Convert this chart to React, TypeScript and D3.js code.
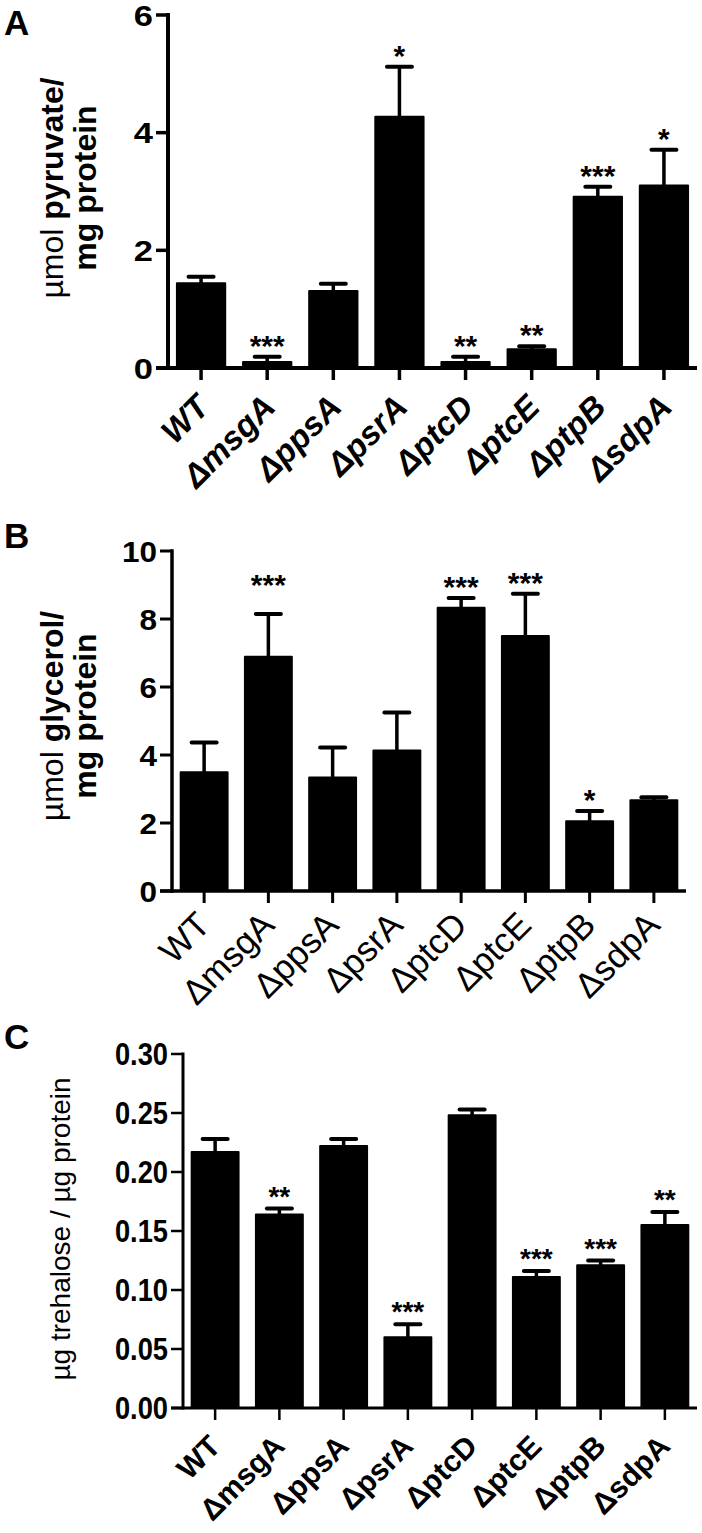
import React from "react";
import * as d3 from "d3";

const strains = ["WT", "ΔmsgA", "ΔppsA", "ΔpsrA", "ΔptcD", "ΔptcE", "ΔptpB", "ΔsdpA"];

const pyruvateMean = [1.44, 0.1, 1.31, 4.27, 0.1, 0.32, 2.91, 3.1];
const pyruvateSem = [0.11, 0.09, 0.12, 0.85, 0.09, 0.05, 0.17, 0.61];
const pyruvateSig = ["", "***", "", "*", "**", "**", "***", "*"];
const pyruvateStarAt: (number | null)[] = [null, null, null, null, null, null, null, null];
const pyruvateTicks = [0, 2, 4, 6];

const glycerolMean = [3.49, 6.89, 3.34, 4.13, 8.33, 7.5, 2.05, 2.67];
const glycerolSem = [0.88, 1.26, 0.88, 1.12, 0.29, 1.24, 0.3, 0.09];
const glycerolSig = ["", "***", "", "", "***", "***", "*", ""];
const glycerolStarAt: (number | null)[] = [null, 8.68, null, null, null, null, null, null];
const glycerolTicks = [0, 2, 4, 6, 8, 10];

const trehaloseMean = [0.217, 0.164, 0.222, 0.06, 0.248, 0.111, 0.121, 0.155];
const trehaloseSem = [0.011, 0.005, 0.006, 0.011, 0.005, 0.005, 0.004, 0.011];
const trehaloseSig = ["", "**", "", "***", "", "***", "***", "**"];
const trehaloseStarAt: (number | null)[] = [null, null, null, null, null, null, null, null];
const trehaloseTicks = [0, 0.05, 0.1, 0.15, 0.2, 0.25, 0.3];

const FONT = "'Liberation Sans', Arial, Helvetica, sans-serif";

type PanelProps = {
  letter: string;
  letterY: number;
  means: number[];
  sems: number[];
  sig: string[];
  starAt: (number | null)[];
  ticks: number[];
  fmt: (v: number) => string;
  x0: number;
  x1: number;
  yTop: number;
  yBottom: number;
  axisW: number;
  tickFont: number;
  tickScaleX: number;
  labelDx: number;
  labelDy: number;
  labelFont: number;
  labelWeight: string;
  labelStyle: string;
  starFont: number;
  starOff: number;
  ylabel: React.ReactNode;
};

function Panel(p: PanelProps) {
  const dmax = p.ticks[p.ticks.length - 1];
  const y = d3.scaleLinear().domain([0, dmax]).range([p.yBottom, p.yTop]);
  const x = d3
    .scaleBand<string>()
    .domain(strains)
    .range([p.x0, p.x1])
    .paddingInner(0.27)
    .paddingOuter(0.135);
  const bw = x.bandwidth();
  const tickLen = 12;
  const capW = 25;
  return (
    <g>
      <text x={4} y={p.letterY} fontFamily={FONT} fontWeight="bold" fontSize={35}>
        {p.letter}
      </text>
      {p.ylabel}
      {strains.map((s, i) => {
        const top = y(p.means[i]);
        const errTop = y(p.means[i] + p.sems[i]);
        const cx = (x(s) as number) + bw / 2;
        return (
          <g key={s}>
            <line x1={cx} x2={cx} y1={top} y2={errTop} stroke="#000" strokeWidth={3.5} />
            <line
              x1={cx - capW / 2}
              x2={cx + capW / 2}
              y1={errTop}
              y2={errTop}
              stroke="#000"
              strokeWidth={4}
              strokeLinecap="round"
            />
            <rect
              x={x(s) as number}
              y={top}
              width={bw}
              height={p.yBottom - top}
              fill="#000"
              stroke="#000"
              strokeWidth={2}
              strokeLinejoin="round"
            />
            {p.sig[i] && (
              <text
                x={cx}
                y={(p.starAt[i] != null ? y(p.starAt[i] as number) : errTop) - p.starOff}
                textAnchor="middle"
                fontFamily={FONT}
                fontWeight="bold"
                fontSize={p.starFont}
              >
                {p.sig[i]}
              </text>
            )}
          </g>
        );
      })}
      <line x1={p.x0} x2={p.x0} y1={p.yTop} y2={p.yBottom} stroke="#000" strokeWidth={p.axisW} strokeLinecap="square" />
      {p.ticks.map((t) => (
        <g key={t}>
          <line x1={p.x0 - tickLen} x2={p.x0} y1={y(t)} y2={y(t)} stroke="#000" strokeWidth={p.axisW - 0.5} />
          <text
            transform={`translate(${p.x0 - tickLen - 3},${y(t)}) scale(${p.tickScaleX},1)`}
            dy="0.36em"
            textAnchor="end"
            fontFamily={FONT}
            fontWeight="bold"
            fontSize={p.tickFont}
          >
            {p.fmt(t)}
          </text>
        </g>
      ))}
      <line x1={p.x0 - tickLen} x2={p.x1} y1={p.yBottom} y2={p.yBottom} stroke="#000" strokeWidth={p.axisW} />
      {strains.map((s) => {
        const cx = (x(s) as number) + bw / 2;
        return (
          <g key={s}>
            <line x1={cx} x2={cx} y1={p.yBottom} y2={p.yBottom + tickLen} stroke="#000" strokeWidth={p.axisW - 0.5} />
            <text
              transform={`translate(${cx + p.labelDx},${p.yBottom + p.labelDy}) rotate(-45)`}
              textAnchor="end"
              fontFamily={FONT}
              fontWeight={p.labelWeight}
              fontStyle={p.labelStyle}
              fontSize={p.labelFont}
            >
              {s}
            </text>
          </g>
        );
      })}
    </g>
  );
}

function TwoLineLabel({ cy, bold1, x1, x2, size }: { cy: number; bold1: string; x1: number; x2: number; size: number }) {
  return (
    <g>
      <text
        transform={`translate(${x1},${cy}) rotate(-90)`}
        textAnchor="middle"
        fontFamily={FONT}
        fontSize={size}
      >
        <tspan>µmol </tspan>
        <tspan fontWeight="bold">{bold1}</tspan>
      </text>
      <text
        transform={`translate(${x2},${cy}) rotate(-90)`}
        textAnchor="middle"
        fontFamily={FONT}
        fontSize={size}
        fontWeight="bold"
      >
        mg protein
      </text>
    </g>
  );
}

export default function App() {
  const fmt0 = d3.format("d");
  const fmt2 = d3.format(".2f");
  return (
    <svg
      width={702}
      height={1533}
      style={{ position: "absolute", left: 0, top: 0, background: "#fff" }}
    >
      <rect width={702} height={1533} fill="#fff" />
      <Panel
        letter="A"
        letterY={35}
        means={pyruvateMean}
        sems={pyruvateSem}
        sig={pyruvateSig}
        starAt={pyruvateStarAt}
        ticks={pyruvateTicks}
        fmt={fmt0}
        x0={168}
        x1={697}
        yTop={15}
        yBottom={368}
        axisW={4}
        tickFont={30}
        tickScaleX={1.15}
        labelDx={10}
        labelDy={41}
        labelFont={33}
        labelWeight="bold"
        labelStyle="italic"
        starFont={30}
        starOff={1}
        ylabel={<TwoLineLabel cy={188} bold1="pyruvate/" x1={63} x2={96} size={32} />}
      />
      <Panel
        letter="B"
        letterY={548}
        means={glycerolMean}
        sems={glycerolSem}
        sig={glycerolSig}
        starAt={glycerolStarAt}
        ticks={glycerolTicks}
        fmt={fmt0}
        x0={172}
        x1={686}
        yTop={551}
        yBottom={891}
        axisW={3.5}
        tickFont={30}
        tickScaleX={1.05}
        labelDx={8}
        labelDy={36}
        labelFont={35}
        labelWeight="normal"
        labelStyle="normal"
        starFont={30}
        starOff={1}
        ylabel={<TwoLineLabel cy={716} bold1="glycerol/" x1={63} x2={96} size={32} />}
      />
      <Panel
        letter="C"
        letterY={1049}
        means={trehaloseMean}
        sems={trehaloseSem}
        sig={trehaloseSig}
        starAt={trehaloseStarAt}
        ticks={trehaloseTicks}
        fmt={fmt2}
        x0={183}
        x1={697}
        yTop={1054}
        yBottom={1408}
        axisW={3}
        tickFont={31}
        tickScaleX={0.88}
        labelDx={7}
        labelDy={40}
        labelFont={30}
        labelWeight="bold"
        labelStyle="normal"
        starFont={28}
        starOff={3}
        ylabel={
          <text
            transform={`translate(70,1229) rotate(-90)`}
            textAnchor="middle"
            fontFamily={FONT}
            fontSize={28}
          >
            µg trehalose / µg protein
          </text>
        }
      />
    </svg>
  );
}
